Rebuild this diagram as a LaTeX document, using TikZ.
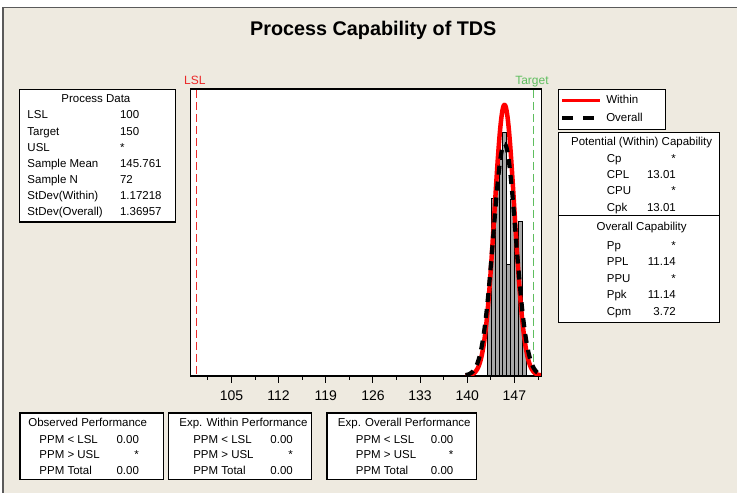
\documentclass[tikz,border=0pt]{standalone}
\usepackage{fontspec}
\setmainfont{Liberation Sans}
\definecolor{bg}{RGB}{238,234,224}
\definecolor{lslred}{RGB}{235,40,40}
\definecolor{tgtgreen}{RGB}{95,190,95}
\definecolor{bargray}{RGB}{168,168,168}
\definecolor{framegray}{RGB}{90,90,90}
\begin{document}
\begin{tikzpicture}[x=1pt,y=-1pt,
  txt/.style={font=\fontsize{11.5}{13}\selectfont, inner sep=0pt, text height=8.3pt, text depth=2.2pt},
  lblw/.style={txt, anchor=west},
  vale/.style={txt, anchor=east},
  box/.style={draw=black, line width=1.2pt, fill=white, inner sep=0pt},
  histbar/.style={draw=black, line width=0.7pt, fill=bargray},
  tickmaj/.style={black, line width=0.9pt},
  within/.style={red, line width=4.5pt, line join=round},
  overall/.style={black, line width=4.2pt, dash pattern=on 9pt off 7pt}
]
\fill[white] (0,0) rectangle (738,493);
\fill[bg] (3,7.5) rectangle (738,493);
\draw[framegray, line width=1.5pt] (3,493) -- (3,7.5) -- (738,7.5);
\useasboundingbox (0,0) rectangle (738,493);

% title
\node[font=\fontsize{19.8}{23}\selectfont\bfseries, inner sep=0pt] (title) at (373.7,30.7) {Process Capability of TDS};

% plot area
\node[draw=black, fill=white, line width=1pt, minimum width=351pt, minimum height=286.7pt, inner sep=0pt] (plot) at (366.2,232.65) {};

% histogram
\foreach \a/\b/\t in {487.9/491.7/290, 491.7/495.6/199, 495.6/499.4/172, 499.4/503.3/160, 503.3/507.2/132, 507.2/511.0/265, 511.0/514.9/200, 514.9/518.8/236, 518.8/522.7/222, 522.7/526.5/338}
  \draw[histbar] (\a,376) rectangle (\b,\t);

% spec lines
\draw[lslred, line width=1.2pt, dash pattern=on 8pt off 4pt] (196.7,90) -- (196.7,376);
\draw[tgtgreen, line width=1.2pt, dash pattern=on 8pt off 4pt] (534.4,90) -- (534.4,376);
\node[txt, text=lslred, anchor=center, font=\fontsize{12}{13}\selectfont] (lsllab) at (195,81.5) {LSL};
\node[txt, text=tgtgreen, anchor=center, font=\fontsize{12}{13}\selectfont] (tgtlab) at (532.5,81.5) {Target};

% curves
\begin{scope}
\clip (plot.south west) rectangle (plot.north east);
\draw[within] plot[domain=466:541.7, samples=220] (\x, {376-271*exp(-0.5*((\x-505)/10)^2)});
\draw[overall] plot[domain=466:541.7, samples=220] (\x, {376-232*exp(-0.5*((\x-505)/11.2)^2)});
\end{scope}
\draw[black, line width=1pt] (plot.south west) rectangle (plot.north east);

% ticks
\foreach \x in {231.7,278.9,326.1,373.3,420.5,467.7,514.9}
  \draw[tickmaj] (\x,376) -- (\x,383);
\foreach \x in {208.1,255.3,302.5,349.7,396.9,444.1,491.3,538.5}
  \draw[tickmaj] (\x,376) -- (\x,380.5);
\foreach \x/\l in {231.7/105,278.9/112,326.1/119,373.3/126,420.5/133,467.7/140,514.9/147}
  \node[font=\fontsize{14}{15}\selectfont, inner sep=0pt] (tk\l) at (\x,396) {\l};

% Process Data box
\node[box, minimum width=156.4pt, minimum height=133pt] (pd) at (97.5,155.8) {};
\node[txt] (pdtitle) at (96,99.5) {Process Data};
\foreach \l/\v/\y/\i in {LSL/100/116/1, Target/150/132.1/2, USL/*/148.2/3, Sample Mean/145.761/164.3/4, Sample N/72/180.4/5, StDev(Within)/1.17218/196.5/6, StDev(Overall)/1.36957/212.6/7}{
  \node[lblw] (pdl\i) at (27.3,\y) {\l};
  \node[lblw] (pdv\i) at (120,\y) {\v};
}

% legend
\node[box, minimum width=107pt, minimum height=40pt] (leg) at (612.5,109.3) {};
\coordinate (lw1) at (562.7,100.7);
\coordinate (lw2) at (600.7,100.7);
\draw[red, line width=3.5pt] (lw1) -- (lw2);
\node[lblw] (legw) at (606.7,100.7) {Within};
\coordinate (lo1) at (562.7,118.3);
\coordinate (lo2) at (597,118.3);
\draw[black, line width=3.5pt, dash pattern=on 11pt off 10pt] (lo1) -- (lo2);
\node[lblw] (lego) at (606.7,118.3) {Overall};

% capability box
\node[box, minimum width=161pt, minimum height=190pt] (cap) at (639.5,227.7) {};
\coordinate (dv) at (0,216);
\draw[black, line width=1.2pt] (cap.west |- dv) -- (cap.east |- dv);
\node[txt] (pottitle) at (642.3,142.7) {Potential (Within) Capability};
\node[txt] (ovtitle) at (642.3,227.7) {Overall Capability};
\foreach \l/\v/\y/\i in {Cp/*/159.5/1, CPL/13.01/175.8/2, CPU/*/192.1/3, Cpk/13.01/208.4/4, Pp/*/246.7/5, PPL/11.14/263.2/6, PPU/*/279.7/7, Ppk/11.14/296.2/8, Cpm/3.72/312.7/9}{
  \node[lblw] (capl\i) at (607.3,\y) {\l};
  \node[vale] (capv\i) at (676.7,\y) {\v};
}

% bottom boxes
\node[box, minimum width=143.3pt, minimum height=66.7pt] (ob) at (91.7,446.7) {};
\node[box, minimum width=142.7pt, minimum height=66.7pt] (ew) at (240.3,446.7) {};
\node[box, minimum width=150pt, minimum height=66.7pt] (eo) at (402.3,446.7) {};
\node[txt] (obt) at (87.8,424.3) {Observed Performance};
\node[txt] (ewt) at (243.7,424.3) {Exp. Within Performance};
\node[txt] (eot) at (404.7,424.3) {Exp. Overall Performance};
\foreach \bx/\lx/\vx in {ob/39.3/139.3, ew/193.3/293.3, eo/356/454}{
  \node[lblw] (\bx l1) at (\lx,440.7) {PPM < LSL};
  \node[vale] (\bx v1) at (\vx,440.7) {0.00};
  \node[lblw] (\bx l2) at (\lx,456) {PPM > USL};
  \node[vale] (\bx v2) at (\vx,456) {*};
  \node[lblw] (\bx l3) at (\lx,471.7) {PPM Total};
  \node[vale] (\bx v3) at (\vx,471.7) {0.00};
}
\end{tikzpicture}
\end{document}
